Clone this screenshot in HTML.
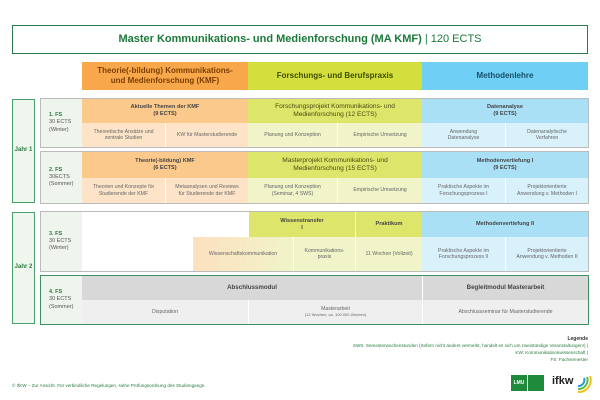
<!DOCTYPE html>
<html><head><meta charset="utf-8"><style>
body{margin:0;width:600px;height:400px;background:#fff;position:relative;overflow:hidden;font-family:"Liberation Sans",sans-serif;}
.c{position:absolute;display:flex;align-items:center;justify-content:center;text-align:center;box-sizing:border-box;line-height:1.25;}
.s{font-size:5.2px;color:#666;}
.h{font-size:5.6px;color:#444;font-weight:bold;}
.bx{position:absolute;box-sizing:border-box;}
.oH{background:#fbc98c}.oS{background:#fde4c8}
.gH{background:#dde56a}.gS{background:#f0f4c8}
.bH{background:#a9e0f6}.bS{background:#d8f1fb}
.yH{background:#d8d8d8}.yS{background:#efefef}
.fs{position:absolute;background:#eef5ec;font-size:5.5px;color:#555;padding-left:8px;box-sizing:border-box;display:flex;flex-direction:column;justify-content:center;line-height:1.3;}
.fs b{color:#2a7a3e;font-weight:bold;}
</style></head><body>
<div class="c" style="left:12px;top:25px;width:576px;height:29px;border:1.3px solid #2a7a4a;font-size:11px;color:#1c7a3a;font-weight:bold;"><div>Master Kommunikations- und Medienforschung (MA KMF) <span style="font-weight:normal">| 120 ECTS</span></div></div>

<div class="c" style="left:82px;top:62px;width:166px;height:28px;background:#f8a84a;font-size:8px;color:#7a3e00;font-weight:bold;"><div>Theorie(-bildung) Kommunikations-<br>und Medienforschung (KMF)</div></div>
<div class="c" style="left:248px;top:62px;width:174px;height:28px;background:#d3df3c;font-size:8px;color:#3c4a00;font-weight:bold;">Forschungs- und Berufspraxis</div>
<div class="c" style="left:422px;top:62px;width:166px;height:28px;background:#6fcff5;font-size:8px;color:#164f68;font-weight:bold;">Methodenlehre</div>

<div class="c" style="left:12px;top:99px;width:23px;height:104px;border:1.2px solid #4aa06a;background:#eef6ee;font-size:6px;color:#2a7a3e;font-weight:bold;">Jahr 1</div>
<div class="c" style="left:12px;top:212px;width:23px;height:112px;border:1.2px solid #4aa06a;background:#eef6ee;font-size:6px;color:#2a7a3e;font-weight:bold;">Jahr 2</div>

<!-- row1 -->
<div class="bx" style="left:40px;top:98px;width:549px;height:50px;border:1px solid #bbb;"></div>
<div class="fs" style="left:41px;top:99px;width:41px;height:48px;"><b>1. FS</b>30 ECTS<br>(Winter)</div>
<div class="c h oH" style="left:82px;top:99px;width:166px;height:24px;"><div>Aktuelle Themen der KMF<br>(9 ECTS)</div></div>
<div class="c s oS" style="left:82px;top:123px;width:83px;height:24px;"><div>Theoretische Ansätze und<br>zentrale Studien</div></div>
<div class="c s oS" style="left:165px;top:123px;width:83px;height:24px;border-left:1px solid #fff;">KW für Masterstudierende</div>
<div class="c gH" style="left:248px;top:99px;width:174px;height:24px;font-size:6.6px;color:#4a4a10;"><div>Forschungsprojekt Kommunikations- und<br>Medienforschung (12 ECTS)</div></div>
<div class="c s gS" style="left:248px;top:123px;width:89px;height:24px;">Planung und Konzeption</div>
<div class="c s gS" style="left:337px;top:123px;width:85px;height:24px;border-left:1px solid #fff;">Empirische Umsetzung</div>
<div class="c h bH" style="left:422px;top:99px;width:166px;height:24px;"><div>Datenanalyse<br>(9 ECTS)</div></div>
<div class="c s bS" style="left:422px;top:123px;width:83px;height:24px;"><div>Anwendung<br>Datenanalyse</div></div>
<div class="c s bS" style="left:505px;top:123px;width:83px;height:24px;border-left:1px solid #fff;"><div>Datenanalytische<br>Verfahren</div></div>

<!-- row2 -->
<div class="bx" style="left:40px;top:151px;width:549px;height:53px;border:1px solid #bbb;"></div>
<div class="fs" style="left:41px;top:152px;width:41px;height:51px;"><b>2. FS</b>30ECTS<br>(Sommer)</div>
<div class="c h oH" style="left:82px;top:152px;width:166px;height:26px;"><div>Theorie(-bildung) KMF<br>(6 ECTS)</div></div>
<div class="c s oS" style="left:82px;top:178px;width:83px;height:25px;"><div>Theorien und Konzepte für<br>Studierende der KMF</div></div>
<div class="c s oS" style="left:165px;top:178px;width:83px;height:25px;border-left:1px solid #fff;"><div>Metaanalysen und Reviews<br>für Studierende der KMF</div></div>
<div class="c gH" style="left:248px;top:152px;width:174px;height:26px;font-size:6.6px;color:#4a4a10;"><div>Masterprojekt Kommunikations- und<br>Medienforschung (15 ECTS)</div></div>
<div class="c s gS" style="left:248px;top:178px;width:89px;height:25px;"><div>Planung und Konzeption<br>(Seminar, 4 SWS)</div></div>
<div class="c s gS" style="left:337px;top:178px;width:85px;height:25px;border-left:1px solid #fff;">Empirische Umsetzung</div>
<div class="c h bH" style="left:422px;top:152px;width:166px;height:26px;"><div>Methodenvertiefung I<br>(9 ECTS)</div></div>
<div class="c s bS" style="left:422px;top:178px;width:83px;height:25px;"><div>Praktische Aspekte im<br>Forschungsprozess I</div></div>
<div class="c s bS" style="left:505px;top:178px;width:83px;height:25px;border-left:1px solid #fff;"><div>Projektorientierte<br>Anwendung v. Methoden I</div></div>

<!-- row3 -->
<div class="bx" style="left:40px;top:211px;width:549px;height:61px;border:1px solid #bbb;"></div>
<div class="fs" style="left:41px;top:212px;width:41px;height:59px;"><b>3. FS</b>30 ECTS<br>(Winter)</div>
<div class="c h gH" style="left:249px;top:212px;width:106px;height:25px;"><div>Wissenstransfer<br>I</div></div>
<div class="c h gH" style="left:355px;top:212px;width:67px;height:25px;border-left:1px solid #fff;">Praktikum</div>
<div class="c h bH" style="left:422px;top:212px;width:166px;height:25px;">Methodenvertiefung II</div>
<div class="c s" style="left:193px;top:237px;width:100px;height:34px;background:linear-gradient(90deg,#fde0c0,#f0f4c8);">Wissenschaftskommunikation</div>
<div class="c s gS" style="left:293px;top:237px;width:62px;height:34px;border-left:1px solid #fff;"><div>Kommunikations-<br>praxis</div></div>
<div class="c s gS" style="left:355px;top:237px;width:67px;height:34px;border-left:1px solid #fff;">11 Wochen (Vollzeit)</div>
<div class="c s bS" style="left:422px;top:237px;width:83px;height:34px;"><div>Praktische Aspekte im<br>Forschungsprozess II</div></div>
<div class="c s bS" style="left:505px;top:237px;width:83px;height:34px;border-left:1px solid #fff;"><div>Projektorientierte<br>Anwendung v. Methoden II</div></div>

<!-- row4 -->
<div class="bx" style="left:40px;top:275px;width:549px;height:50px;border:1px solid #3f9060;"></div>
<div class="fs" style="left:41px;top:276px;width:41px;height:48px;"><b>4. FS</b>30 ECTS<br>(Sommer)</div>
<div class="c yH" style="left:82px;top:276px;width:340px;height:24px;font-size:6.2px;color:#444;font-weight:bold;">Abschlussmodul</div>
<div class="c yH" style="left:422px;top:276px;width:166px;height:24px;font-size:6.2px;color:#444;font-weight:bold;border-left:1px solid #fff;">Begleitmodul Masterarbeit</div>
<div class="c s yS" style="left:82px;top:300px;width:166px;height:24px;">Disputation</div>
<div class="c s yS" style="left:248px;top:300px;width:174px;height:24px;border-left:1px solid #fff;"><div>Masterarbeit<br><span style="font-size:4px">(12 Wochen, ca. 100.000 Zeichen)</span></div></div>
<div class="c s yS" style="left:422px;top:300px;width:166px;height:24px;border-left:1px solid #fff;">Abschlussseminar für Masterstudierende</div>

<!-- legend -->
<div style="position:absolute;right:12px;top:336px;text-align:right;font-size:4.6px;color:#2a7a3e;line-height:1.45;">
<b style="color:#333;font-size:5px">Legende</b><br>
SWS: Semesterwochenstunden (Sofern nicht anders vermerkt, handelt es sich um zweistündige Veranstaltungen!) |<br>
KW: Kommunikationswissenschaft |<br>FS: Fachsemester</div>
<div style="position:absolute;left:12px;top:383px;font-size:4.6px;color:#2a7a3e;">© IfKW – Zur Ansicht. Für verbindliche Regelungen, siehe Prüfungsordnung des Studiengangs.</div>

<!-- logos -->
<div class="c" style="left:511px;top:375px;width:16px;height:16px;background:#1f8a3c;color:#fff;font-size:5px;font-weight:bold;">LMU</div>
<div class="bx" style="left:528px;top:375px;width:16px;height:16px;background:#1f8a3c;"></div>
<div style="position:absolute;left:552px;top:375px;font-size:11px;font-weight:bold;color:#222;">ifkw</div>
<svg style="position:absolute;left:574px;top:372px" width="20" height="22"><path d="M4 14 a6 6 0 0 0 6 -8" stroke="#2b9bd7" stroke-width="2" fill="none"/><path d="M4 17 a9 9 0 0 0 9 -12" stroke="#5cba47" stroke-width="2" fill="none"/><path d="M4 20 a12 12 0 0 0 12 -16" stroke="#f2c21b" stroke-width="2" fill="none"/></svg>
</body></html>
